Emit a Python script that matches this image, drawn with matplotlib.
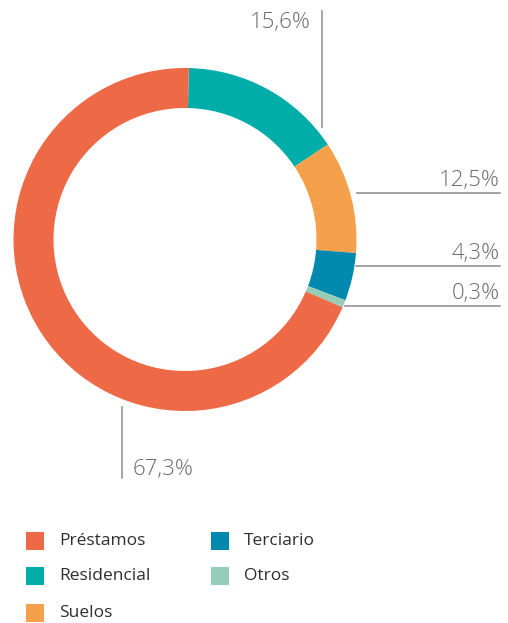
import matplotlib.pyplot as plt
from matplotlib.patches import Rectangle

# slices in drawing order (clockwise from the top)
categories = ['Residencial', 'Suelos', 'Terciario', 'Otros', 'Préstamos']
shares = [15.3, 10.6, 4.5, 0.7, 68.9]   # share of the ring as drawn
labels = ['15,6%', '12,5%', '4,3%', '0,3%', '67,3%']
colors = ['#00ADA8', '#F5A04A', '#0088AE', '#95CDB9', '#EE6A47']

legend_order = ['Préstamos', 'Residencial', 'Suelos', 'Terciario', 'Otros']

W, H = 508, 623
fig = plt.figure(figsize=(W / 100, H / 100), dpi=100)
ax = fig.add_axes([0, 0, 1, 1])

def y(p):
    # picture rows -> data coords
    return H - p

cx, cy, r = 185, y(239.5), 171.5
ax.pie(shares, colors=colors, startangle=88.7, counterclock=False,
       center=(cx, cy), radius=r, wedgeprops=dict(width=40, linewidth=0))

line_kw = dict(color='#8a8a8a', lw=1.1)
txt_kw = dict(color='#6b6b6b', fontsize=16, fontweight='light',
              family=['Open Sans', 'DejaVu Sans'])

# Residencial: vertical leader at the top
ax.plot([322, 322], [y(11), y(127)], **line_kw)
ax.text(311, y(28), labels[0], ha='right', va='baseline', **txt_kw)
# Suelos, Terciario, Otros: horizontal leaders on the right
for lab, ly, x0 in [(labels[1], 193, 357), (labels[2], 266, 356), (labels[3], 306, 345)]:
    ax.plot([x0, 500], [y(ly), y(ly)], **line_kw)
    ax.text(500, y(ly - 7), lab, ha='right', va='baseline', **txt_kw)
# Préstamos: vertical leader at the bottom
ax.plot([122, 122], [y(407), y(478)], **line_kw)
ax.text(133, y(475), labels[4], ha='left', va='baseline', **txt_kw)

# legend, two columns
col = dict(zip(categories, colors))
slots = [(26, 532), (26, 567), (26, 604), (211, 532), (211, 567)]
for name, (lx, ly) in zip(legend_order, slots):
    ax.add_patch(Rectangle((lx, y(ly + 18)), 18, 18, color=col[name], lw=0))
    ax.text(lx + 33, y(ly + 9), name, ha='left', va='center', color='#2e2e2e',
            fontsize=12.5, family=['Open Sans', 'DejaVu Sans'])

ax.set_xlim(0, W)
ax.set_ylim(0, H)
ax.axis('off')
fig.savefig('out.png', dpi=100)
